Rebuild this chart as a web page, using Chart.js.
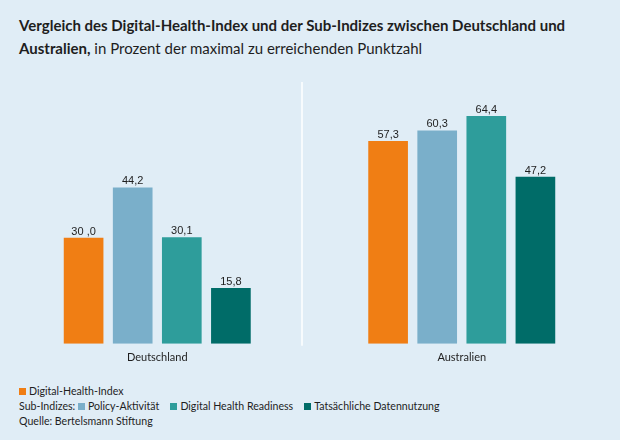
<!DOCTYPE html>
<html lang="de">
<head>
<meta charset="utf-8">
<title>Digital-Health-Index Deutschland / Australien</title>
<script src="https://cdn.jsdelivr.net/npm/chart.js"></script>
<style>
  html, body { margin: 0; padding: 0; }
  body {
    width: 620px; height: 440px; overflow: hidden; position: relative;
    background: #e0edf6; color: #1e1e1e; font-family: Lato, sans-serif;
  }
  #title {
    position: absolute; left: 19px; top: 14px; width: 590px;
    font-size: 15px; line-height: 23px;
  }
  #title b { font-weight: 700; }
  #chart-wrap { position: absolute; left: 0; top: 60px; width: 620px; height: 311px; }
  #legend {
    position: absolute; left: 19px; top: 384px;
    font-size: 10.6px; line-height: 15px;
  }
  .sw { display: inline-block; width: 7px; height: 7px; margin-right: 3px; }
  .gap { margin-left: 11px; }
</style>
</head>
<body>
<div id="title"><b>Vergleich des Digital-Health-Index und der Sub-Indizes zwischen Deutschland und Australien,</b> in Prozent der maximal zu erreichenden Punktzahl</div>
<div id="chart-wrap"><canvas id="c"></canvas></div>
<div id="legend"></div>

<script>
// Daten aus der Grafik
const categories = ['Deutschland', 'Australien'];
const digitalHealthIndex = [30.0, 57.3];
const policyAktivitaet = [44.2, 60.3];
const digitalHealthReadiness = [30.1, 64.4];
const datennutzung = [15.8, 47.2];
// Beschriftung wie im Original (inkl. Leerzeichen bei "30 ,0")
const indexLabels = ['30 ,0', '57,3'];

const colors = {
  index: '#f07e14',
  policy: '#7aafca',
  readiness: '#2e9d9b',
  nutzung: '#006c68'
};

const fmt = v => v.toFixed(1).replace('.', ',');

const series = [
  { label: 'Digital-Health-Index', data: digitalHealthIndex, color: colors.index, texts: indexLabels },
  { label: 'Policy-Aktivität', data: policyAktivitaet, color: colors.policy },
  { label: 'Digital Health Readiness', data: digitalHealthReadiness, color: colors.readiness },
  { label: 'Tatsächliche Datennutzung', data: datennutzung, color: colors.nutzung }
];

// Werte über den Balken
const valueLabels = {
  id: 'valueLabels',
  afterDatasetsDraw(chart) {
    const ctx = chart.ctx;
    ctx.save();
    ctx.font = '11px "Liberation Sans", Arial, sans-serif';
    ctx.fillStyle = '#1e1e1e';
    ctx.textAlign = 'center';
    ctx.textBaseline = 'alphabetic';
    chart.data.datasets.forEach((ds, i) => {
      chart.getDatasetMeta(i).data.forEach((bar, j) => {
        const s = series[i];
        const txt = s.texts ? s.texts[j] : fmt(s.data[j]);
        ctx.fillText(txt, bar.x, bar.y - 3);
      });
    });
    ctx.restore();
  }
};

// weiße Trennlinie zwischen den Ländern
const divider = {
  id: 'divider',
  beforeDatasetsDraw(chart) {
    const { ctx, chartArea } = chart;
    ctx.save();
    ctx.strokeStyle = '#ffffff';
    ctx.lineWidth = 1.5;
    ctx.beginPath();
    ctx.moveTo(302, chartArea.top);
    ctx.lineTo(302, chartArea.bottom + 2);
    ctx.stroke();
    ctx.restore();
  }
};

new Chart(document.getElementById('c'), {
  type: 'bar',
  data: {
    labels: categories,
    datasets: series.map(s => ({
      label: s.label,
      data: s.data,
      backgroundColor: s.color,
      borderWidth: 0,
      categoryPercentage: 0.645,
      barPercentage: 0.808
    }))
  },
  options: {
    responsive: true,
    maintainAspectRatio: false,
    animation: false,
    layout: { padding: { left: 5, right: 6, top: 22, bottom: 0 } },
    plugins: { legend: { display: false }, tooltip: { enabled: false } },
    scales: {
      x: {
        grid: { display: false, drawTicks: false },
        border: { display: false },
        ticks: { color: '#1e1e1e', font: { family: 'Lato', size: 11 }, padding: 7 }
      },
      y: { display: false, min: 0, max: 74 }
    }
  },
  plugins: [divider, valueLabels]
});

// Legende
const sw = c => `<span class="sw" style="background:${c}"></span>`;
document.getElementById('legend').innerHTML =
  `<div>${sw(series[0].color)}${series[0].label}</div>` +
  `<div>Sub-Indizes: ${sw(series[1].color)}${series[1].label}` +
  `<span class="gap"></span>${sw(series[2].color)}${series[2].label}` +
  `<span class="gap"></span>${sw(series[3].color)}${series[3].label}</div>` +
  `<div>Quelle: Bertelsmann Stiftung</div>`;
</script>
</body>
</html>
